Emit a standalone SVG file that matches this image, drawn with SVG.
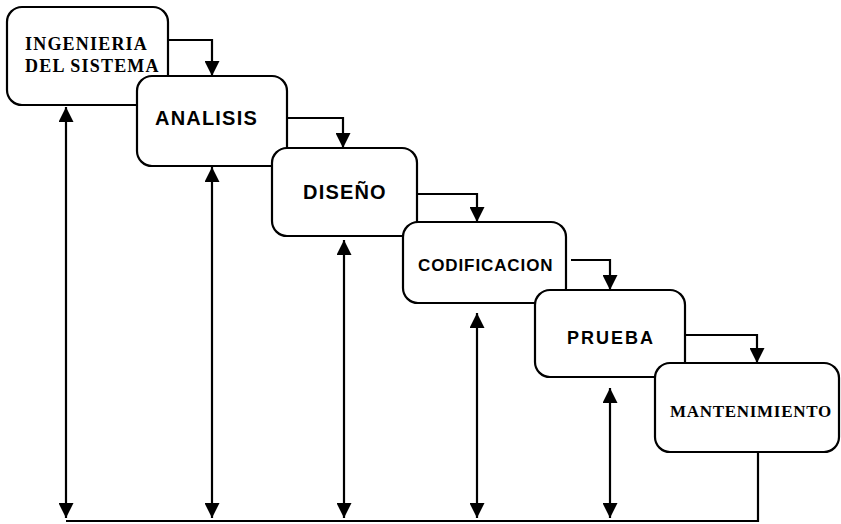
<svg xmlns="http://www.w3.org/2000/svg" width="841" height="524" viewBox="0 0 841 524">
  <defs>
    <marker id="head" viewBox="0 0 14 14" refX="14" refY="7" markerWidth="15" markerHeight="15" markerUnits="userSpaceOnUse" orient="auto-start-reverse">
      <path d="M0,0 L14,7 L0,14 Z" fill="#000"/>
    </marker>
    <style>
      .box { fill: #fff; stroke: #000; stroke-width: 2.2; }
      .line { fill: none; stroke: #000; stroke-width: 2.2; }
      .sans { font-family: "Liberation Sans", Arial, sans-serif; font-weight: bold; fill: #000; }
      .serif { font-family: "Liberation Serif", "Times New Roman", serif; font-weight: bold; fill: #000; }
    </style>
  </defs>
  <rect width="841" height="524" fill="#fff"/>

  <!-- phase boxes, each later one drawn over the previous -->
  <g id="ingenieria">
    <rect class="box" x="7" y="7" width="161" height="98" rx="15"/>
    <text class="serif" x="25" y="50" font-size="18" letter-spacing="1.2">INGENIERIA</text>
    <text class="serif" x="25" y="72" font-size="18" letter-spacing="1.2">DEL SISTEMA</text>
  </g>
  <g id="analisis">
    <rect class="box" x="137" y="76" width="150" height="90" rx="15"/>
    <text class="sans" x="155" y="125" font-size="20" letter-spacing="1.2">ANALISIS</text>
  </g>
  <g id="diseno">
    <rect class="box" x="272" y="148" width="145" height="88" rx="15"/>
    <text class="sans" x="303" y="199" font-size="20" letter-spacing="1.2">DISEÑO</text>
  </g>
  <g id="codificacion">
    <rect class="box" x="403" y="222" width="163" height="81" rx="15"/>
    <text class="sans" x="418" y="271" font-size="17" letter-spacing="0.9">CODIFICACION</text>
  </g>
  <g id="prueba">
    <rect class="box" x="535" y="290" width="150" height="87" rx="15"/>
    <text class="sans" x="567" y="344" font-size="18" letter-spacing="2">PRUEBA</text>
  </g>
  <g id="mantenimiento">
    <rect class="box" x="655" y="363" width="184" height="89" rx="15"/>
    <text class="serif" x="670" y="417" font-size="17" letter-spacing="0.7">MANTENIMIENTO</text>
  </g>

  <!-- connectors -->
  <g id="connectors">
    <!-- forward steps -->
    <path class="line" d="M168,40 H212 V76" marker-end="url(#head)"/>
    <path class="line" d="M287,118 H343 V148" marker-end="url(#head)"/>
    <path class="line" d="M417,194 H477 V222" marker-end="url(#head)"/>
    <path class="line" d="M571,260 H610 V290" marker-end="url(#head)"/>
    <path class="line" d="M685,335 H757 V363" marker-end="url(#head)"/>
    <!-- feedback line along the bottom -->
    <path class="line" d="M758,452 V521 H66"/>
    <!-- two-way links between each phase and the feedback line -->
    <path class="line" d="M66,107 V518" marker-start="url(#head)" marker-end="url(#head)"/>
    <path class="line" d="M212,167 V518" marker-start="url(#head)" marker-end="url(#head)"/>
    <path class="line" d="M344,240 V518" marker-start="url(#head)" marker-end="url(#head)"/>
    <path class="line" d="M477,313 V518" marker-start="url(#head)" marker-end="url(#head)"/>
    <path class="line" d="M610,388 V518" marker-start="url(#head)" marker-end="url(#head)"/>
  </g>
</svg>
